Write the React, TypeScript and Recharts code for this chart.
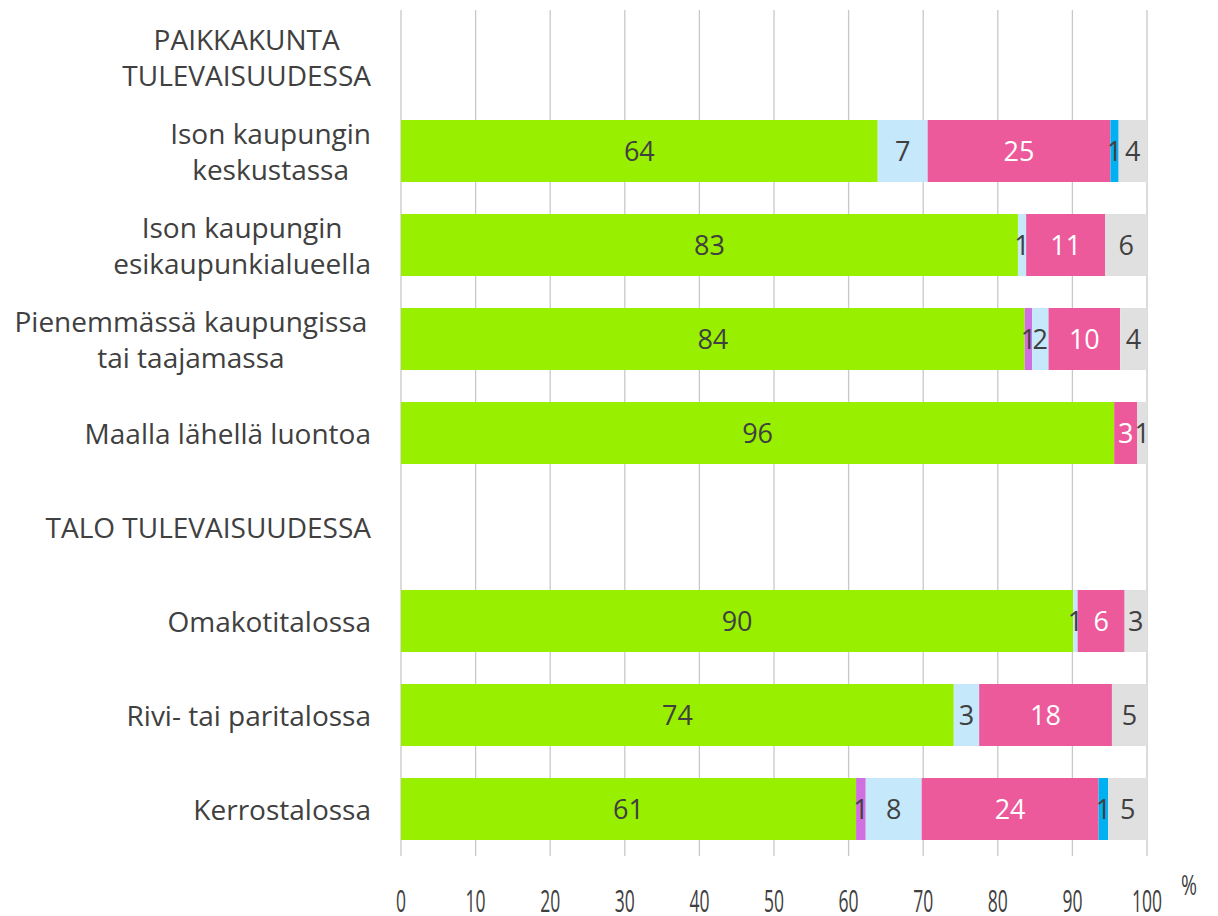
import React from 'react';
import { BarChart, Bar, XAxis, YAxis, CartesianGrid, LabelList } from 'recharts';

const categories = [
  'PAIKKAKUNTA\nTULEVAISUUDESSA',
  'Ison kaupungin\nkeskustassa',
  'Ison kaupungin\nesikaupunkialueella',
  'Pienemmässä kaupungissa \ntai taajamassa',
  'Maalla lähellä luontoa',
  'TALO TULEVAISUUDESSA',
  'Omakotitalossa',
  'Rivi- tai paritalossa',
  'Kerrostalossa',
];

const green = [null, 63.9, 82.7, 83.6, 95.6, null, 90.1, 74.1, 61.0];
const purple = [null, 0, 0, 1.0, 0, null, 0, 0, 1.3];
const lightBlue = [null, 6.7, 1.1, 2.2, 0, null, 0.6, 3.4, 7.5];
const pink = [null, 24.5, 10.6, 9.6, 3.1, null, 6.3, 17.8, 23.7];
const blue = [null, 1.1, 0, 0, 0, null, 0, 0, 1.3];
const grey = [null, 3.8, 5.6, 3.6, 1.3, null, 3.0, 4.7, 5.2];

const xTicks = [0, 10, 20, 30, 40, 50, 60, 70, 80, 90, 100];

const series = [
  { key: 'green', values: green, color: '#99EF00', label: '#404040' },
  { key: 'purple', values: purple, color: '#D070E0', label: '#404040' },
  { key: 'lightBlue', values: lightBlue, color: '#C5E8FB', label: '#404040' },
  { key: 'pink', values: pink, color: '#EC5A9B', label: '#FFFFFF' },
  { key: 'blue', values: blue, color: '#00B0F0', label: '#404040' },
  { key: 'grey', values: grey, color: '#E0E0E0', label: '#404040' },
];

const data = categories.map((name, i) => {
  const row: Record<string, any> = { name };
  series.forEach((s) => {
    row[s.key] = s.values[i];
  });
  return row;
});

const FONT = "'Open Sans', 'Noto Sans', sans-serif";
const TEXT = '#404040';

let ctx: CanvasRenderingContext2D | null = null;
const measure = (t: string, size: number) => {
  if (!ctx) ctx = document.createElement('canvas').getContext('2d');
  if (!ctx) return t.length * size * 0.5;
  ctx.font = `${size}px ${FONT}`;
  return ctx.measureText(t).width;
};

const CategoryTick = (props: any) => {
  const { y, payload } = props;
  const lines: string[] = String(payload.value).split('\n');
  const size = 28;
  const maxW = Math.max(...lines.map((l) => measure(l, size)));
  const cx = 371 - maxW / 2;
  const step = 36;
  const start = y - ((lines.length - 1) * step) / 2;
  return (
    <g>
      {lines.map((l, i) => (
        <text
          key={i}
          x={cx}
          y={start + i * step}
          textAnchor="middle"
          dominantBaseline="central"
          fontSize={size}
          fontFamily={FONT}
          fill={TEXT}
        >
          {l}
        </text>
      ))}
    </g>
  );
};

const ValueTick = (props: any) => {
  const { x, payload } = props;
  const s = String(payload.value);
  return (
    <g>
      <text
        x={x}
        y={900}
        textAnchor="middle"
        dominantBaseline="central"
        fontSize={31}
        fontFamily={FONT}
        fill={TEXT}
        textLength={s.length * 10}
        lengthAdjust="spacingAndGlyphs"
      >
        {s}
      </text>
      {payload.value === 100 && (
        <text
          x={x + 42}
          y={884}
          textAnchor="middle"
          dominantBaseline="central"
          fontSize={28}
          fontFamily={FONT}
          fill={TEXT}
          textLength={16}
          lengthAdjust="spacingAndGlyphs"
        >
          %
        </text>
      )}
    </g>
  );
};

const fmt = (v: any) => (v ? String(Math.round(Number(v))) : '');

export default function App() {
  return (
    <div style={{ position: 'absolute', left: 0, top: 0, background: '#fff' }}>
      <BarChart
        width={1218}
        height={916}
        data={data}
        layout="vertical"
        margin={{ top: 10, right: 71, bottom: 0, left: 0 }}
      >
        <CartesianGrid horizontal={false} stroke="#C8C8C8" strokeWidth={1.3} />
        <XAxis
          type="number"
          domain={[0, 100]}
          ticks={xTicks}
          axisLine={false}
          tickLine={false}
          tick={<ValueTick />}
          interval={0}
          height={60}
        />
        <YAxis
          type="category"
          dataKey="name"
          width={401}
          axisLine={false}
          tickLine={false}
          tick={<CategoryTick />}
          interval={0}
        />
        {series.map((s) => (
          <Bar
            key={s.key}
            dataKey={s.key}
            stackId="a"
            fill={s.color}
            barSize={62}
            isAnimationActive={false}
          >
            <LabelList
              dataKey={s.key}
              position="center"
              formatter={fmt}
              fill={s.label}
              fontSize={27}
              fontFamily={FONT}
            />
          </Bar>
        ))}
      </BarChart>
    </div>
  );
}
